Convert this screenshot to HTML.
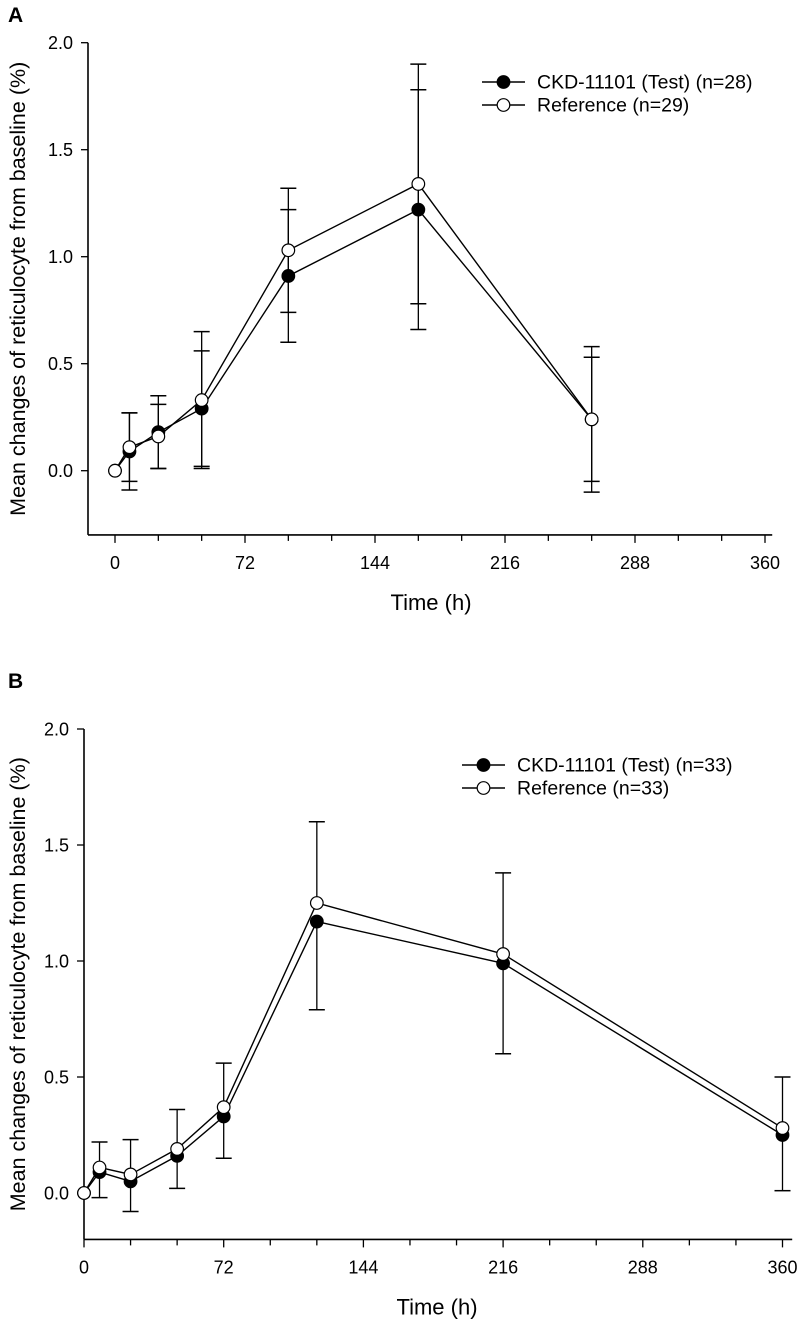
<!DOCTYPE html>
<html><head><meta charset="utf-8"><style>
html,body{margin:0;padding:0;background:#fff;}
svg{display:block;font-family:"Liberation Sans",Arial,sans-serif;}
</style></head><body>
<svg id="chart" width="800" height="1322" viewBox="0 0 800 1322" xmlns="http://www.w3.org/2000/svg"></svg>
<script>
// Panel A data
const timesA = [0, 8, 24, 48, 96, 168, 264];
const testA = [0, 0.09, 0.18, 0.29, 0.91, 1.22, 0.24];
const testSdA = [0, 0.18, 0.17, 0.27, 0.31, 0.56, 0.34];
const refA = [0, 0.11, 0.16, 0.33, 1.03, 1.34, 0.24];
const refSdA = [0, 0.16, 0.15, 0.32, 0.29, 0.56, 0.29];
// Panel B data
const timesB = [0, 8, 24, 48, 72, 120, 216, 360];
const testB = [0, 0.09, 0.05, 0.16, 0.33, 1.17, 0.99, 0.25];
const testSdB = [0, 0.11, 0.13, 0.14, 0.18, 0.38, 0.39, 0.24];
const refB = [0, 0.11, 0.08, 0.19, 0.37, 1.25, 1.03, 0.28];
const refSdB = [0, 0.11, 0.15, 0.17, 0.19, 0.35, 0.35, 0.22];
const xTicks = [0, 72, 144, 216, 288, 360];
const yTicks = [0.0, 0.5, 1.0, 1.5, 2.0];

const svg = document.getElementById('chart');
const NS = 'http://www.w3.org/2000/svg';
function mk(tag, attrs, parent, text){
  const e = document.createElementNS(NS, tag);
  for (const k in attrs) e.setAttribute(k, attrs[k]);
  if (text !== undefined) e.textContent = text;
  (parent || svg).appendChild(e);
  return e;
}

function panel(cfg){
  const g = mk('g', {});
  
  
  const sx = t => cfg.x0 + (t / 72) * cfg.px72;
  const sy = v => cfg.y0 - (v / 0.5) * cfg.py05;
  const yBottom = sy(cfg.ymin), yTop = sy(2.0);
  const xRight = sx(cfg.xmax);
  const ya = mk('line', {x1: cfg.axX, y1: yTop, x2: cfg.axX, y2: yBottom, stroke: '#000', 'stroke-width': 1.6}, g);
  
  
  const xa = mk('line', {x1: cfg.axX, y1: yBottom, x2: xRight, y2: yBottom, stroke: '#000', 'stroke-width': 1.6}, g);
  
  
  yTicks.forEach(v => {
    const y = sy(v);
    mk('line', {x1: cfg.axX - 7, y1: y, x2: cfg.axX, y2: y, stroke: '#000', 'stroke-width': 1.3}, g);
    const t = mk('text', {x: cfg.axX - 15, y: y + 6.5, 'text-anchor': 'end', 'font-size': 18}, g, v.toFixed(1));
    
    
  });
  for (let h = 0; h <= 360; h += 24) {
    const x = sx(h);
    const major = h % 72 === 0;
    mk('line', {x1: x, y1: yBottom, x2: x, y2: yBottom + (major ? 8 : 6), stroke: '#000', 'stroke-width': 1.3}, g);
  }
  xTicks.forEach(h => {
    const t = mk('text', {x: sx(h), y: yBottom + 34, 'text-anchor': 'middle', 'font-size': 18}, g, String(h));
    
    
  });
  const xt = mk('text', {x: cfg.xTitleX, y: yBottom + 75, 'text-anchor': 'middle', 'font-size': 22}, g, 'Time (h)');
  
  
  const yc = (yTop + yBottom) / 2;
  const yt = mk('text', {x: 25, y: yc, 'text-anchor': 'middle', 'font-size': 21.5, transform: `rotate(-90 25 ${yc})`}, g, 'Mean changes of reticulocyte from baseline (%)');
  
  
  const pl = mk('text', {x: 8, y: cfg.labelY, 'font-size': 21, 'font-weight': 'bold'}, g, cfg.label);
  
  

  function ebar(t, lo, hi){
    const x = sx(t);
    mk('line', {x1: x, y1: sy(lo), x2: x, y2: sy(hi), stroke: '#000', 'stroke-width': 1.3}, g);
  }
  function cap(t, v){
    const x = sx(t);
    mk('line', {x1: x - 8, y1: sy(v), x2: x + 8, y2: sy(v), stroke: '#000', 'stroke-width': 1.5}, g);
  }
  cfg.times.forEach((t, i) => {
    if (i === 0) return;
    if (cfg.both) {
      ebar(t, cfg.test[i] - cfg.testSd[i], cfg.test[i] + cfg.testSd[i]);
      cap(t, cfg.test[i] - cfg.testSd[i]); cap(t, cfg.test[i] + cfg.testSd[i]);
      ebar(t, cfg.ref[i] - cfg.refSd[i], cfg.ref[i] + cfg.refSd[i]);
      cap(t, cfg.ref[i] - cfg.refSd[i]); cap(t, cfg.ref[i] + cfg.refSd[i]);
    } else {
      ebar(t, cfg.test[i] - cfg.testSd[i], cfg.test[i]);
      cap(t, cfg.test[i] - cfg.testSd[i]);
      ebar(t, cfg.ref[i], cfg.ref[i] + cfg.refSd[i]);
      cap(t, cfg.ref[i] + cfg.refSd[i]);
    }
  });
  const pts = arr => cfg.times.map((t, i) => sx(t) + ',' + sy(arr[i])).join(' ');
  const lt = mk('polyline', {points: pts(cfg.test), fill: 'none', stroke: '#000', 'stroke-width': 1.4}, g);
  
  
  const lr = mk('polyline', {points: pts(cfg.ref), fill: 'none', stroke: '#000', 'stroke-width': 1.4}, g);
  
  
  cfg.times.forEach((t, i) => {
    const c = mk('circle', {cx: sx(t), cy: sy(cfg.test[i]), r: 6.3, fill: '#000', stroke: '#000', 'stroke-width': 1.2}, g);
    
    
  });
  cfg.times.forEach((t, i) => {
    const c = mk('circle', {cx: sx(t), cy: sy(cfg.ref[i]), r: 6.3, fill: '#fff', stroke: '#000', 'stroke-width': 1.2}, g);
    
    
  });
  const lg = mk('g', {}, g);
  
  
  [[cfg.leg1, '#000', cfg.legY], [cfg.leg2, '#fff', cfg.legY + 23]].forEach(([txt, fill, y]) => {
    mk('line', {x1: cfg.legX, y1: y, x2: cfg.legX + 43, y2: y, stroke: '#000', 'stroke-width': 1.4}, lg);
    mk('circle', {cx: cfg.legX + 21.5, cy: y, r: 6.3, fill: fill, stroke: '#000', 'stroke-width': 1.2}, lg);
    const t = mk('text', {x: cfg.legX + 55, y: y + 6.5, 'font-size': 19.5}, lg, txt);
    
    
  });
}

panel({name: 'panel-a', label: 'A', labelY: 22, x0: 115, px72: 130, y0: 470.7, py05: 107, ymin: -0.3, xmax: 364, axX: 88,
  times: timesA, test: testA, testSd: testSdA, ref: refA, refSd: refSdA, both: true,
  legX: 482, legY: 82, leg1: 'CKD-11101 (Test) (n=28)', leg2: 'Reference (n=29)', xTitleX: 431});
panel({name: 'panel-b', label: 'B', labelY: 688, x0: 84, px72: 139.7, y0: 1193, py05: 116, ymin: -0.2, xmax: 365, axX: 84,
  times: timesB, test: testB, testSd: testSdB, ref: refB, refSd: refSdB, both: false,
  legX: 462, legY: 765, leg1: 'CKD-11101 (Test) (n=33)', leg2: 'Reference (n=33)', xTitleX: 437});
</script>
</body></html>
